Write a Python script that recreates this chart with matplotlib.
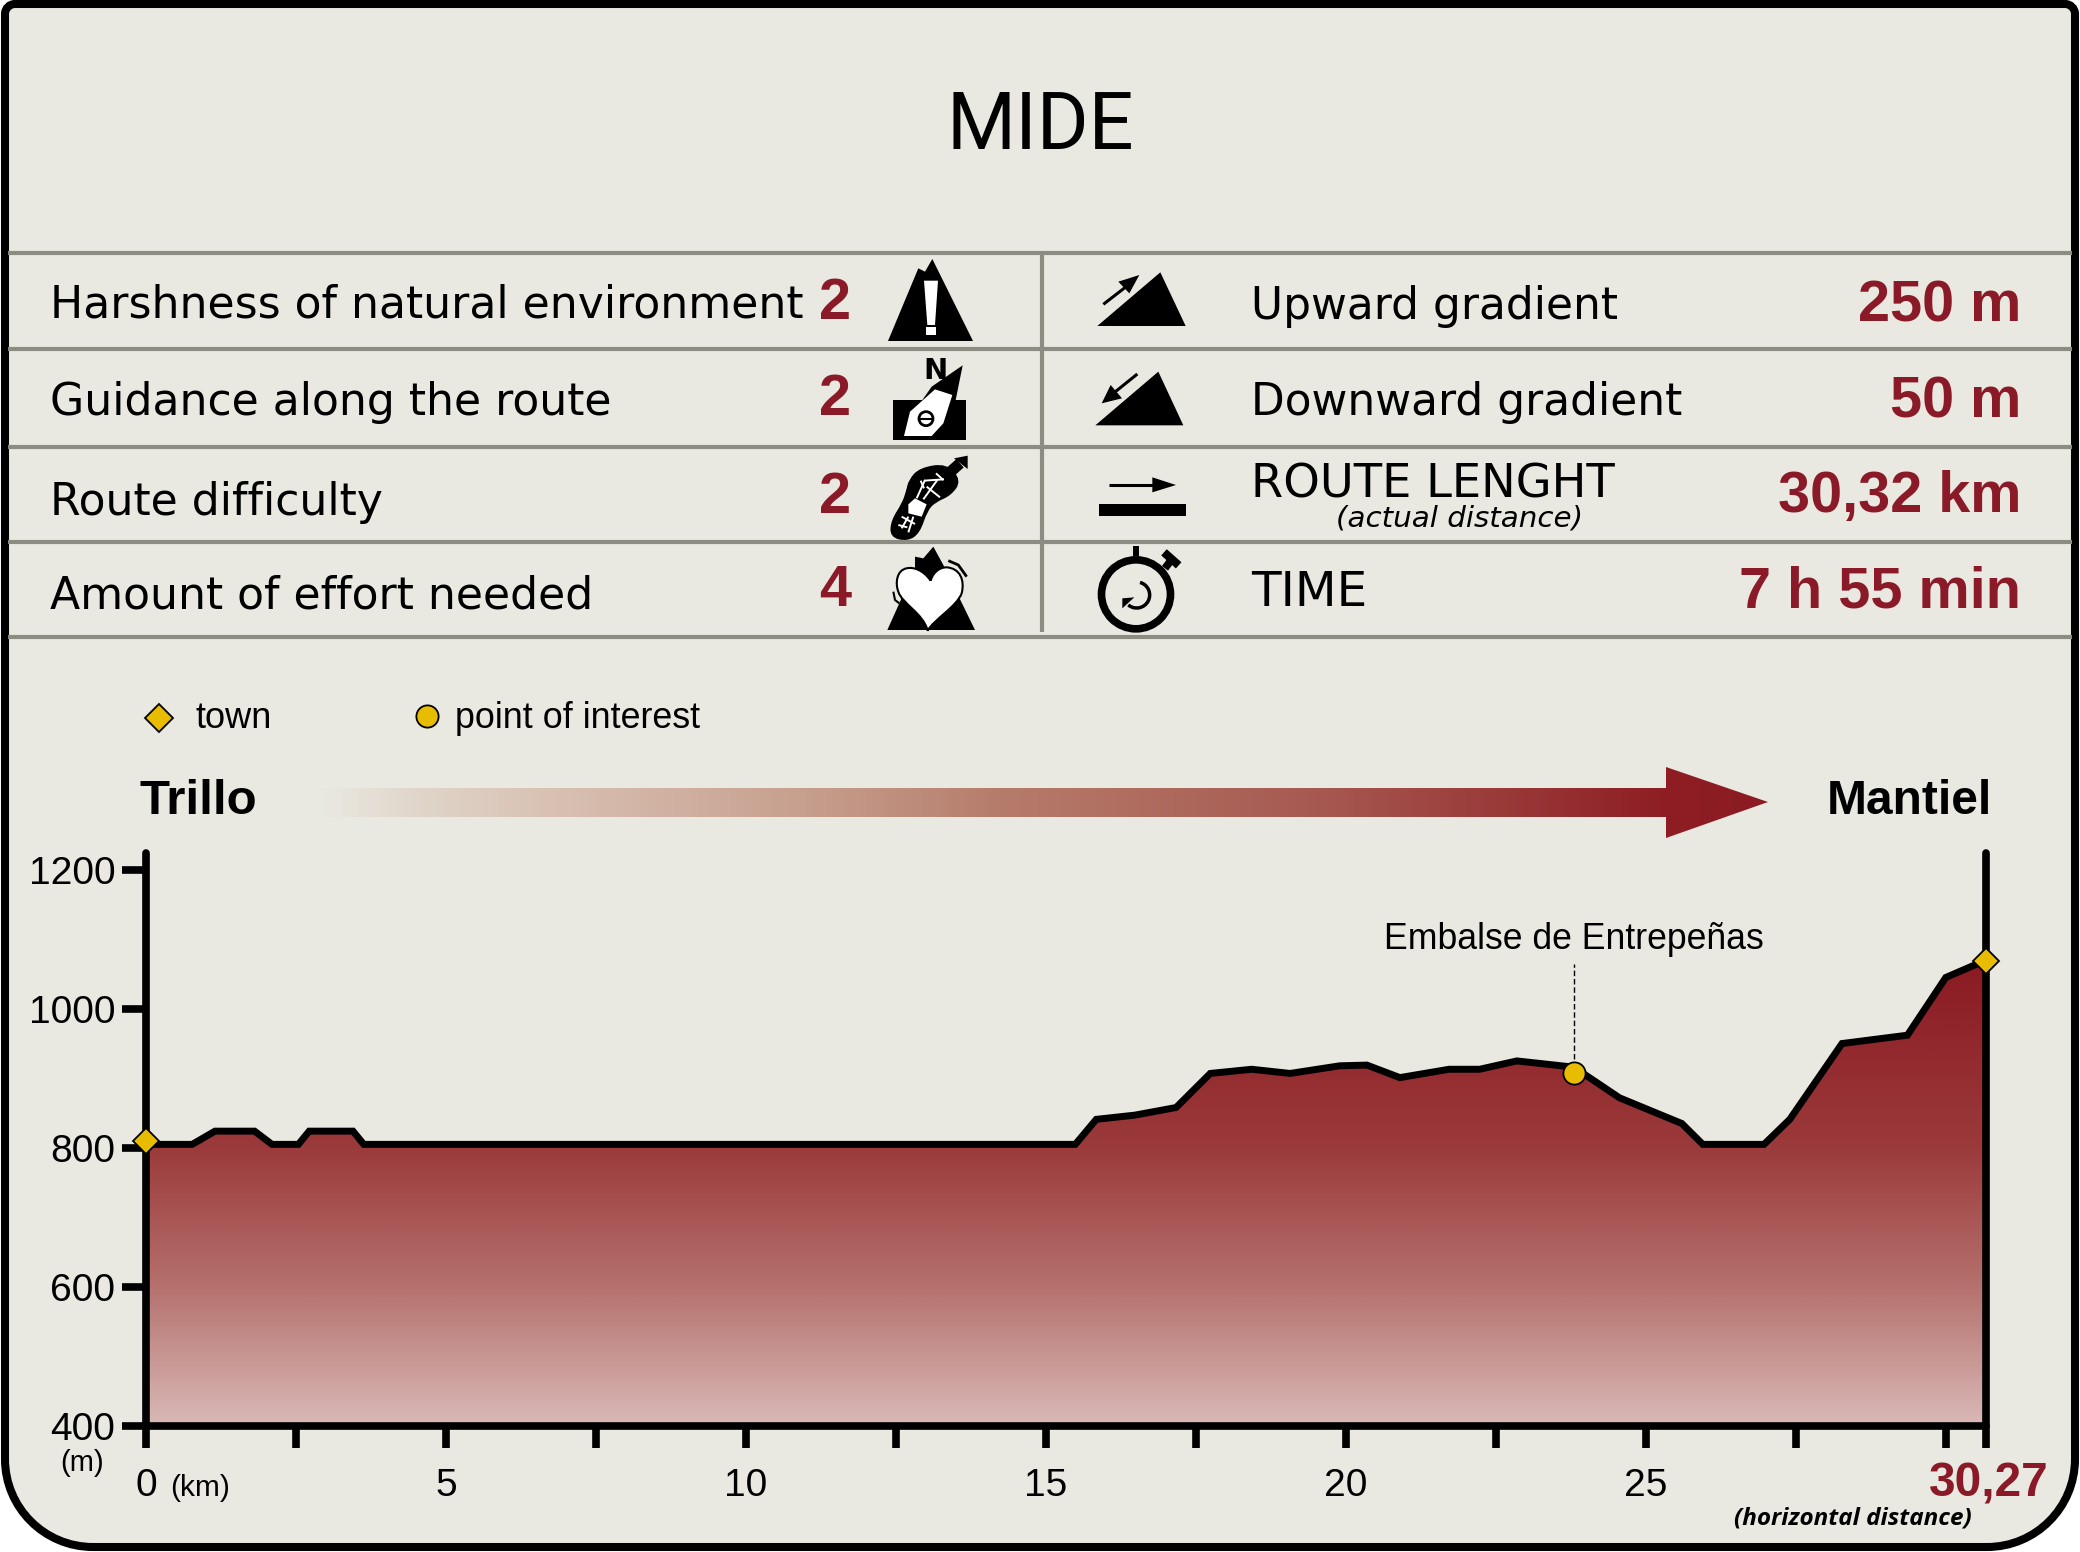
#!/usr/bin/env python3
import matplotlib
matplotlib.use('Agg')
import matplotlib.pyplot as plt
import matplotlib.patches as patches
from matplotlib.path import Path
from matplotlib.colors import LinearSegmentedColormap
import numpy as np

W, H = 2080, 1552
BG = '#E9E9E1'
RED = '#8B1A28'
GREY = '#8C8C82'
YELLOW = '#E8BC00'
SANS = ['Liberation Sans', 'DejaVu Sans']

# profile of the route
km = [0, 0.77, 1.15, 1.81, 2.1, 2.54, 2.72, 3.45, 3.63, 15.49, 15.84, 16.48,
      17.17, 17.74, 18.43, 19.07, 19.9, 20.35, 20.9, 21.72, 22.23, 22.85, 23.8,
      24.56, 25.6, 25.95, 26.97, 27.4, 28.27, 29.36, 30.0, 30.67]
elev = [805, 805, 824, 824, 805, 805, 824, 824, 805, 805, 841, 847,
        858, 907, 913, 907, 918, 919, 901, 913, 913, 925, 916,
        872, 835, 805, 805, 841, 950, 962, 1045, 1070]

y_ticks = [400, 600, 800, 1000, 1200]
x_ticks = [0, 2.5, 5, 7.5, 10, 12.5, 15, 17.5, 20, 22.5, 25, 27.5, 30, 30.67]
x_labels = ['0', '', '5', '', '10', '', '15', '', '20', '', '25', '', '', '']
end_label = '30,27'

town_km = [0, 30.67]
town_m = [810, 1068]
poi_km = [23.8]
poi_m = [908]
poi_name = 'Embalse de Entrepeñas'

mide_left = ['Harshness of natural environment', 'Guidance along the route',
             'Route difficulty', 'Amount of effort needed']
mide_scores = ['2', '2', '2', '4']
mide_right = ['Upward gradient', 'Downward gradient', 'ROUTE LENGHT', 'TIME']
right_sizes = [31.6, 31.6, 33.4, 34.8]
mide_values = ['250 m', '50 m', '30,32 km', '7 h 55 min']


def z(pts, ox=800, oy=240):
    return [(ox + a / 3, oy + b / 3) for a, b in pts]


def poly(ax, pts, color='black', **kw):
    ax.add_patch(patches.Polygon(z(pts), closed=True, fc=color, ec='none', **kw))


def zline(ax, pts, lw, color='black', cap='butt'):
    xy = np.array(z(pts))
    ax.plot(xy[:, 0], xy[:, 1], color=color, lw=lw, solid_capstyle=cap)


def smooth(pts):
    # closed outline through the midpoints of pts, corners become curves
    p = z(pts)
    mid = [((p[i][0] + p[i - 1][0]) / 2, (p[i][1] + p[i - 1][1]) / 2) for i in range(len(p))]
    verts = [mid[0]]
    codes = [Path.MOVETO]
    for i in range(len(p)):
        verts += [p[i], mid[(i + 1) % len(p)]]
        codes += [Path.CURVE3, Path.CURVE3]
    return Path(verts, codes)


def panel_path():
    # small radius on top, large one at the bottom
    l, r, t, b = 5, 2075, 4, 1547
    rt, rb = 10, 88
    k = 0.5523
    verts = [(l + rt, t), (r - rt, t),
             (r - rt + k * rt, t), (r, t + rt - k * rt), (r, t + rt),
             (r, b - rb),
             (r, b - rb + k * rb), (r - rb + k * rb, b), (r - rb, b),
             (l + rb, b),
             (l + rb - k * rb, b), (l, b - rb + k * rb), (l, b - rb),
             (l, t + rt),
             (l, t + rt - k * rt), (l + rt - k * rt, t), (l + rt, t),
             (l + rt, t)]
    codes = [Path.MOVETO, Path.LINETO,
             Path.CURVE4, Path.CURVE4, Path.CURVE4,
             Path.LINETO,
             Path.CURVE4, Path.CURVE4, Path.CURVE4,
             Path.LINETO,
             Path.CURVE4, Path.CURVE4, Path.CURVE4,
             Path.LINETO,
             Path.CURVE4, Path.CURVE4, Path.CURVE4,
             Path.CLOSEPOLY]
    return Path(verts, codes)


fig = plt.figure(figsize=(W / 100, H / 100), dpi=100, facecolor='white')
bg = fig.add_axes([0, 0, 1, 1])
bg.set_xlim(0, W)
bg.set_ylim(H, 0)
bg.axis('off')

bg.add_patch(patches.PathPatch(panel_path(), fc=BG, ec='black', lw=5.8))

bg.text(1040, 119, 'MIDE', ha='center', va='center_baseline', fontsize=57,
        family=['Roboto', 'DejaVu Sans'])

# table rules
for yy in [253, 349, 447, 542, 637]:
    bg.plot([8, 2072], [yy, yy], color=GREY, lw=3, solid_capstyle='butt')
bg.plot([1042, 1042], [253, 632], color=GREY, lw=3, solid_capstyle='butt')

left_y = [305, 402, 502, 596]
score_y = [304, 400, 498, 591]
right_y = [307, 403, 485, 593]
value_y = [306, 403, 497, 593]
for i in range(4):
    bg.text(50, left_y[i], mide_left[i], ha='left', va='center', fontsize=31.8,
            family='DejaVu Sans')
    bg.text(835, score_y[i], mide_scores[i], ha='center', va='center',
            fontsize=41.5, family=SANS, weight='bold', color=RED)
    bg.text(1251, right_y[i], mide_right[i], ha='left', va='center', fontsize=right_sizes[i],
            family='DejaVu Sans')
    bg.text(2021, value_y[i], mide_values[i], ha='right', va='center',
            fontsize=41.5, family=SANS, weight='bold', color=RED)
bg.text(1460, 518, '(actual distance)', ha='center', va='center', fontsize=21.2,
        family='DejaVu Sans', style='italic')

# icon: harshness
poly(bg, [(264, 303), (355, 85), (375, 95), (397, 57), (519, 303)])
poly(bg, [(372, 122), (414, 122), (405, 255), (382, 255)], color='white')
poly(bg, [(378, 262), (408, 262), (408, 285), (378, 285)], color='white')

# icon: guidance
poly(bg, [(280, 481), (497, 481), (497, 600), (280, 600)])
poly(bg, [(488, 376), (465, 490), (360, 490), (395, 440)])
poly(bg, [(405, 448), (457, 465), (430, 550), (395, 588), (312, 588), (330, 515)],
     color='white')
xy = z([(378, 536)])[0]
bg.add_patch(patches.Circle(xy, 7, fc='white', ec='black', lw=2))
zline(bg, [(360, 536), (396, 536)], 1.5)
bg.text(*z([(405, 392)])[0], 'N', ha='center', va='center', fontsize=21,
        family='DejaVu Sans', weight='bold')

# icon: route difficulty (sole of a boot)
sole = smooth([(440, 672), (482, 722), (452, 765), (405, 785), (380, 812), (358, 878),
               (322, 902), (272, 890), (275, 842), (308, 790), (320, 755), (328, 720),
               (360, 685)])
bg.add_patch(patches.PathPatch(sole, fc='black', ec='black', lw=1))
for seg in [[(375, 720), (350, 775)], [(412, 720), (370, 778)], [(372, 722), (432, 718)],
            [(380, 740), (420, 772)], [(408, 700), (430, 720)], [(362, 722), (372, 745)],
            [(305, 830), (345, 852)], [(325, 830), (305, 865)], [(340, 830), (325, 877)],
            [(295, 855), (322, 862)]]:
    zline(bg, seg, 1.4, color='white')
poly(bg, [(325, 793), (345, 775), (380, 793), (365, 830), (325, 820)], color='white')
zline(bg, [(452, 695), (480, 670)], 8)
poly(bg, [(462, 655), (503, 647), (503, 687)])

# icon: effort
poly(bg, [(262, 1170), (345, 985), (345, 950), (370, 955), (400, 920), (430, 975),
          (525, 1170)])
heart_v = z([(392, 1022), (370, 990), (340, 980), (320, 985), (290, 990), (285, 1030),
             (295, 1055), (305, 1090), (370, 1120), (383, 1172), (400, 1140), (470, 1100),
             (485, 1060), (495, 1020), (480, 985), (440, 982), (420, 982), (400, 995),
             (392, 1022)])
heart_c = [Path.MOVETO] + [Path.CURVE4] * 18
bg.add_patch(patches.PathPatch(Path(heart_v, heart_c), fc='white', ec='black', lw=1.5))
zline(bg, [(445, 962), (475, 975), (500, 1010)], 2)
zline(bg, [(280, 1055), (285, 1080), (298, 1090)], 1.5)

# icon: upward gradient
poly(bg, [(892, 258), (1081, 97), (1157, 258)])
zline(bg, [(910, 193), (985, 135)], 2.2)
poly(bg, [(955, 125), (1018, 105), (988, 160)])

# icon: downward gradient
poly(bg, [(886, 556), (1075, 395), (1150, 556)])
zline(bg, [(1012, 402), (940, 460)], 2.2)
poly(bg, [(932, 435), (966, 475), (905, 490)])

# icon: route length
zline(bg, [(926, 735), (1070, 735)], 2.2)
poly(bg, [(1057, 712), (1128, 735), (1057, 757)])
poly(bg, [(897, 792), (1157, 792), (1157, 828), (897, 828)])

# icon: stopwatch
bg.add_patch(patches.Circle(z([(1008, 1063)])[0], 34.5, fc='none', ec='black', lw=5.5))
poly(bg, [(998, 918), (1017, 918), (1017, 952), (998, 952)])
zline(bg, [(1095, 985), (1115, 958)], 5.5)
zline(bg, [(1092, 937), (1136, 976)], 6)
bg.add_patch(patches.Arc(z([(1010, 1065)])[0], 26, 26, theta1=-75, theta2=130, color='black', lw=2.5))
poly(bg, [(967, 1075), (1003, 1072), (967, 1105)])

# legend
bg.plot([159], [718], marker='D', ms=14, mfc=YELLOW, mec='black', mew=1.3)
bg.text(195, 719, 'town', ha='left', va='center', fontsize=26, family=SANS)
bg.plot([427], [716], marker='o', ms=16, mfc=YELLOW, mec='black', mew=1.3)
bg.text(455, 719, 'point of interest', ha='left', va='center', fontsize=25.8, family=SANS)

bg.text(139, 801, 'Trillo', ha='left', va='center', fontsize=35.5, family=SANS, weight='bold')
bg.text(1992, 801, 'Mantiel', ha='right', va='center', fontsize=34.5, family=SANS, weight='bold')

# direction arrow fading in from the left
arrow_cm = LinearSegmentedColormap.from_list(
    'arrow', [(0, BG), (0.08, '#DFD2C6'), (0.185, '#D6BCAD'), (0.335, '#C79F8E'),
              (0.47, '#B67C6B'), (0.695, '#A65850'), (0.93, '#8E1E24'), (1, '#8B1A22')])
arrow_img = bg.imshow(np.linspace(0, 1, 512).reshape(1, -1), cmap=arrow_cm,
                      extent=(318, 1768, 838, 767), aspect='auto', zorder=2)
arrow_shape = patches.Polygon([(318, 788), (1666, 788), (1666, 767), (1768, 802),
                               (1666, 838), (1666, 817), (318, 817)],
                              closed=True, transform=bg.transData, fc='none', ec='none')
bg.add_patch(arrow_shape)
arrow_img.set_clip_path(arrow_shape)
bg.set_xlim(0, W)
bg.set_ylim(H, 0)

# elevation chart
x0, x1 = 146, 1986
y_bottom, y_top = 1426, 853
ax = fig.add_axes([x0 / W, 1 - y_bottom / H, (x1 - x0) / W, (y_bottom - y_top) / H])
ax.patch.set_alpha(0)
ax.set_xlim(0, 30.67)
ax.set_ylim(400, 1224)
ax.spines['top'].set_visible(False)
for side in ['left', 'right', 'bottom']:
    ax.spines[side].set_linewidth(5.5)
    ax.spines[side].set_capstyle('round')

fill_cm = LinearSegmentedColormap.from_list(
    'fill', [(0, '#D9B9B7'), (0.3, '#B5716D'), (0.6, '#9B3A3A'), (1, '#8A1A23')])
grad = np.linspace(0, 1, 512).reshape(-1, 1)
img = ax.imshow(grad, origin='lower', cmap=fill_cm, extent=(0, 30.67, 400, 1070),
                aspect='auto', zorder=1)
area = ax.fill_between(km, elev, 400, color='none', zorder=1)
img.set_clip_path(area.get_paths()[0], transform=ax.transData)
ax.plot(km, elev, color='black', lw=5, zorder=3, solid_joinstyle='miter', clip_on=False)

ax.set_yticks(y_ticks)
ax.set_xticks(x_ticks)
ax.set_xticklabels(x_labels)
ax.tick_params(axis='y', length=17, width=5.5, labelsize=28, pad=5)
ax.tick_params(axis='x', length=16, width=5.5, labelsize=28, pad=14)
for lab in ax.get_xticklabels() + ax.get_yticklabels():
    lab.set_family(SANS)

ax.plot([poi_km[0], poi_km[0]], [poi_m[0] + 20, 1065], color='black', lw=1, ls=(0, (4, 2)),
        zorder=3)
ax.plot(town_km, town_m, ls='none', marker='D', ms=13, mfc=YELLOW, mec='black', mew=1.3,
        clip_on=False, zorder=5)
ax.plot(poi_km, poi_m, ls='none', marker='o', ms=16, mfc=YELLOW, mec='black', mew=1.3,
        clip_on=False, zorder=5)
ax.text(poi_km[0], 1099, poi_name, ha='center', va='center', fontsize=25.7, family=SANS)

bg.text(82, 1463, '(m)', ha='center', va='center', fontsize=21, family=SANS)
bg.text(170, 1488, '(km)', ha='left', va='center', fontsize=21.5, family=SANS)
bg.text(2049, 1484, end_label, ha='right', va='center', fontsize=34.5, family=SANS,
        weight='bold', color=RED)
bg.text(1972, 1519, '(horizontal distance)', ha='right', va='center', fontsize=17.5,
        family=['Open Sans', 'Liberation Sans'], stretch='condensed', weight='bold',
        style='italic')

fig.savefig('out.png', dpi=100, facecolor='white')
